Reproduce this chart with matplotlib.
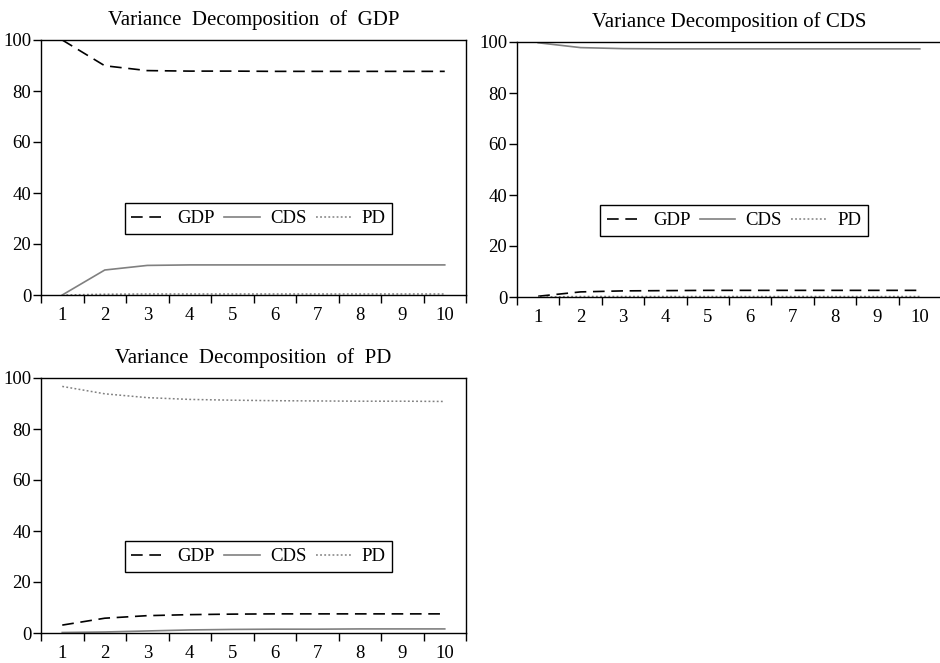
import matplotlib
matplotlib.use("Agg")
import matplotlib.pyplot as plt
import numpy as np

plt.rcParams['font.family'] = ['Liberation Serif', 'DejaVu Serif']

periods = list(range(1, 11))

# Variance decomposition of GDP
gdp_gdp = [100.0, 89.9, 88.0, 87.8, 87.8, 87.7, 87.7, 87.7, 87.7, 87.7]
gdp_cds = [0.0, 9.8, 11.6, 11.8, 11.8, 11.8, 11.8, 11.8, 11.8, 11.8]
gdp_pd = [0.0, 0.3, 0.4, 0.4, 0.4, 0.4, 0.4, 0.4, 0.4, 0.4]

# Variance decomposition of CDS
cds_gdp = [0.3, 2.0, 2.4, 2.5, 2.6, 2.6, 2.6, 2.6, 2.6, 2.6]
cds_cds = [99.7, 97.8, 97.4, 97.3, 97.3, 97.3, 97.3, 97.3, 97.3, 97.3]
cds_pd = [0.0, 0.2, 0.2, 0.2, 0.2, 0.2, 0.2, 0.2, 0.2, 0.2]

# Variance decomposition of PD
pd_gdp = [3.1, 5.8, 6.8, 7.2, 7.4, 7.5, 7.5, 7.5, 7.5, 7.5]
pd_cds = [0.2, 0.4, 0.8, 1.2, 1.4, 1.5, 1.5, 1.6, 1.6, 1.6]
pd_pd = [96.7, 93.8, 92.3, 91.6, 91.3, 91.1, 91.0, 90.9, 90.9, 90.8]

panels = [
    ("Variance  Decomposition  of  GDP", gdp_gdp, gdp_cds, gdp_pd, [41, 295, 425]),
    ("Variance Decomposition of CDS", cds_gdp, cds_cds, cds_pd, [517, 297, 424]),
    ("Variance  Decomposition  of  PD", pd_gdp, pd_cds, pd_pd, [41, 633, 425]),
]

W, H = 940, 663
fig = plt.figure(figsize=(9.4, 6.63), dpi=100)

for title, g, c, p, (left, bottom, width) in panels:
    ax = fig.add_axes([left / W, (H - bottom) / H, width / W, 255 / H])
    ax.plot(periods, g, color='black', linestyle=(0, (7, 4)), linewidth=1.2, label='GDP')
    ax.plot(periods, c, color='#808080', linestyle='-', linewidth=1.2, label='CDS')
    ax.plot(periods, p, color='#808080', linestyle=(0, (1.2, 1.5)), linewidth=1.1, label='PD')

    ax.set_xlim(0.5, 10.5)
    ax.set_ylim(0, 100)
    ax.set_xticks(np.arange(0.5, 11, 1))
    ax.set_xticklabels([])
    ax.set_xticks(periods, minor=True)
    ax.set_xticklabels([str(x) for x in periods], minor=True)
    ax.tick_params(axis='x', which='major', direction='out', length=6, width=1)
    ax.tick_params(axis='x', which='minor', length=0, pad=9, labelsize=13.5)
    ax.set_yticks([0, 20, 40, 60, 80, 100])
    ax.tick_params(axis='y', direction='out', length=6, width=1, pad=1, labelsize=13.5)
    for s in ax.spines.values():
        s.set_linewidth(1.0)
    ax.set_title(title, fontsize=15, pad=11)

    leg = ax.legend(loc='center', bbox_to_anchor=(0.512, 0.30), ncol=3, fontsize=13.5,
                    frameon=True, fancybox=False, edgecolor='black', framealpha=1,
                    handlelength=1.9, handletextpad=0.55, columnspacing=0.5,
                    borderpad=0.35, borderaxespad=0)
    leg.get_frame().set_linewidth(1.0)

fig.savefig('out.png', dpi=100)
